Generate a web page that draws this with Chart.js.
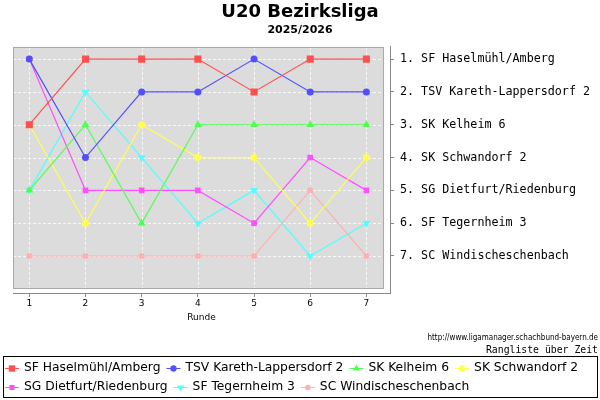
<!DOCTYPE html>
<html>
<head>
<meta charset="utf-8">
<script src="https://cdn.jsdelivr.net/npm/chart.js@4/dist/chart.umd.min.js"></script>
<style>
  html, body { margin: 0; padding: 0; background: #fff; }
  #wrap { width: 600px; height: 400px; }
</style>
</head>
<body>
<div id="wrap"><canvas id="chart_ranks" width="600" height="400"></canvas></div>
<script>
// rounds on the x axis, final standing labels on the right axis
var rounds = [1, 2, 3, 4, 5, 6, 7];
var rankLabels = ['SF Haselmühl/Amberg', 'TSV Kareth-Lappersdorf 2', 'SK Kelheim 6', 'SK Schwandorf 2',
                  'SG Dietfurt/Riedenburg', 'SF Tegernheim 3', 'SC Windischeschenbach'];

// rank of each team after every round
var haselmuehl = [3, 1, 1, 1, 2, 1, 1];
var kareth     = [1, 4, 2, 2, 1, 2, 2];
var kelheim    = [5, 3, 6, 3, 3, 3, 3];
var schwandorf = [3, 6, 3, 4, 4, 6, 4];
var dietfurt   = [1, 5, 5, 5, 6, 4, 5];
var tegernheim = [5, 2, 4, 6, 5, 7, 6];
var windisch   = [7, 7, 7, 7, 7, 5, 7];

var teams = [
  {name: 'SF Haselmühl/Amberg',       ranks: haselmuehl, color: '#ff5050', style: 'rect',     radius: 5,   rot: 0},
  {name: 'TSV Kareth-Lappersdorf 2',  ranks: kareth,     color: '#5050ff', style: 'circle',   radius: 3.5, rot: 0},
  {name: 'SK Kelheim 6',              ranks: kelheim,    color: '#50ff50', style: 'triangle', radius: 4.5, rot: 0},
  {name: 'SK Schwandorf 2',           ranks: schwandorf, color: '#ffff50', style: 'circle',   radius: 3.5, rot: 0},
  {name: 'SG Dietfurt/Riedenburg',    ranks: dietfurt,   color: '#ff50ff', style: 'rect',     radius: 4,   rot: 0},
  {name: 'SF Tegernheim 3',           ranks: tegernheim, color: '#50ffff', style: 'triangle', radius: 4.5, rot: 180},
  {name: 'SC Windischeschenbach',     ranks: windisch,   color: '#ffb0b0', style: 'circle',   radius: 3,   rot: 0}
];

// axis ranges (the grey plot box ends a little before the axis lines)
var xMin = 0.71, xMax = 7.42, xBoxEnd = 7.30;
var yMin = 0.625, yMax = 8.128, yBoxEnd = 7.976;

var datasets = teams.map(function (t) {
  return {
    label: t.name,
    data: rounds.map(function (r, i) { return {x: r, y: t.ranks[i]}; }),
    borderColor: t.color,
    backgroundColor: t.color,
    borderWidth: 1.2,
    pointStyle: t.style,
    pointRadius: t.radius,
    pointRotation: t.rot,
    pointBorderWidth: 0,
    pointBackgroundColor: t.color,
    tension: 0
  };
});

var plotBox = {
  id: 'plotBox',
  beforeDatasetsDraw: function (chart) {
    var ctx = chart.ctx, a = chart.chartArea;
    var xs = chart.scales.x, ys = chart.scales.y;
    var left = a.left, top = a.top;
    var right = xs.getPixelForValue(xBoxEnd), bottom = ys.getPixelForValue(yBoxEnd);
    ctx.save();
    ctx.fillStyle = '#dcdcdc';
    ctx.fillRect(left, top, right - left, bottom - top);
    ctx.strokeStyle = '#f8f8f8';
    ctx.lineWidth = 1;
    ctx.setLineDash([3, 2]);
    xs.ticks.forEach(function (t) {
      var px = Math.round(xs.getPixelForValue(t.value)) + 0.5;
      ctx.beginPath(); ctx.moveTo(px, top); ctx.lineTo(px, bottom); ctx.stroke();
    });
    ys.ticks.forEach(function (t) {
      var py = Math.round(ys.getPixelForValue(t.value)) + 0.5;
      ctx.beginPath(); ctx.moveTo(left, py); ctx.lineTo(right, py); ctx.stroke();
    });
    ctx.setLineDash([]);
    ctx.strokeStyle = '#aaaaaa';
    ctx.strokeRect(Math.round(left) + 0.5, Math.round(top) + 0.5, Math.round(right - left), Math.round(bottom - top));
    ctx.restore();
  }
};

var footer = {
  id: 'footer',
  afterDraw: function (chart) {
    var ctx = chart.ctx;
    ctx.save();
    ctx.fillStyle = '#000';
    ctx.textAlign = 'right';
    ctx.textBaseline = 'middle';
    ctx.font = '8px "DejaVu Sans Condensed", "DejaVu Sans"';
    ctx.fillText('http://www.ligamanager.schachbund-bayern.de', 598, 338, 192);
    ctx.font = '9.8px "DejaVu Sans Mono"';
    ctx.fillText('Rangliste über Zeit', 598, 350);

    // legend box
    ctx.strokeStyle = '#000';
    ctx.lineWidth = 1;
    ctx.strokeRect(3.5, 356.5, 594, 41);
    ctx.font = '12.3px "DejaVu Sans"';
    ctx.textAlign = 'left';
    var x = 5, y = 368;
    chart.data.datasets.forEach(function (ds) {
      var w = 19 + ctx.measureText(ds.label).width;
      if (x + w > 596) { x = 5; y = 387; }
      ctx.strokeStyle = ds.borderColor;
      ctx.fillStyle = ds.borderColor;
      ctx.beginPath(); ctx.moveTo(x, y + 0.5); ctx.lineTo(x + 14, y + 0.5); ctx.stroke();
      Chart.helpers.drawPoint(ctx, {pointStyle: ds.pointStyle, radius: ds.pointRadius * 0.9,
                                    rotation: ds.pointRotation, borderWidth: 0}, x + 7, y + 0.5);
      ctx.fillStyle = '#000';
      ctx.fillText(ds.label, x + 19, y);
      x += w + 6;
    });
    ctx.restore();
  }
};

Chart.defaults.font.family = '"DejaVu Sans"';
Chart.defaults.color = '#000';

var ctx = document.getElementById('chart_ranks');
var myChart = new Chart(ctx, {
  type: 'line',
  data: { datasets: datasets },
  options: {
    responsive: false,
    animation: false,
    events: [],
    layout: { padding: { left: 0, right: 0, top: 0, bottom: 77 } },
    plugins: {
      legend: { display: false },
      tooltip: { enabled: false },
      title: {
        display: true,
        text: 'U20 Bezirksliga',
        color: '#000',
        font: { size: 18, weight: 'bold' },
        padding: { top: 2, bottom: 0 }
      },
      subtitle: {
        display: true,
        text: '2025/2026',
        color: '#000',
        font: { size: 11, weight: 'bold' },
        padding: { top: 0, bottom: 10 }
      }
    },
    scales: {
      x: {
        type: 'linear',
        position: 'bottom',
        min: xMin,
        max: xMax,
        afterBuildTicks: function (scale) {
          scale.ticks = rounds.map(function (r) { return {value: r}; });
        },
        afterFit: function (scale) { scale.height = 30; },
        ticks: { autoSkip: false, maxRotation: 0, padding: 1, font: { size: 9 },
                 callback: function (v) { return String(v); } },
        grid: { drawOnChartArea: false, drawTicks: true, tickLength: 4, color: '#888' },
        border: { display: true, color: '#888' }
        ,title: { display: true, text: 'Runde', font: { size: 9 }, padding: 0 }
      },
      y: {
        type: 'linear',
        position: 'right',
        reverse: true,
        min: yMin,
        max: yMax,
        afterBuildTicks: function (scale) {
          scale.ticks = rankLabels.map(function (l, i) { return {value: i + 1}; });
        },
        afterFit: function (scale) { scale.width = 210; },
        ticks: {
          autoSkip: false,
          padding: 6,
          font: { family: '"DejaVu Sans Mono"', size: 11.7 },
          callback: function (v) { return v + '. ' + rankLabels[v - 1]; }
        },
        grid: { drawOnChartArea: false, drawTicks: true, tickLength: 4, color: '#888' },
        border: { display: true, color: '#888' }
      },
      // empty left strip so the plot starts a little in from the edge
      pad: {
        type: 'linear',
        position: 'left',
        afterFit: function (scale) { scale.width = 13; },
        ticks: { display: false },
        grid: { display: false },
        border: { display: false }
      }
    }
  },
  plugins: [plotBox, footer]
});
</script>
</body>
</html>
